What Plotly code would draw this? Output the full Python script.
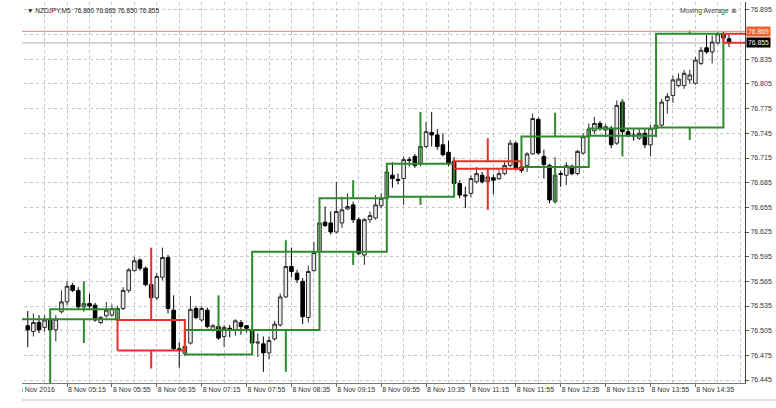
import plotly.graph_objects as go

# ---------------- data ----------------
symbol = "NZDJPY,M5"
indicator_label = "Moving Average"
date_label = "8 Nov 2016"

# M5 bars, index 0 = 8 Nov 05:00 (first visible bar index = -4)
m5_first = -4
m5_open = [76.511, 76.504, 76.515, 76.509,
           76.519, 76.506, 76.528, 76.540, 76.560, 76.554, 76.534, 76.538, 76.536, 76.515, 76.523, 76.524,
           76.518, 76.532, 76.554, 76.578, 76.591, 76.581, 76.561, 76.545, 76.570, 76.594, 76.530, 76.483,
           76.477, 76.490, 76.532, 76.518, 76.530, 76.506, 76.510, 76.498, 76.508, 76.506, 76.515, 76.511,
           76.506, 76.490, 76.489, 76.478, 76.495, 76.512, 76.546, 76.583, 76.575, 76.565, 76.521, 76.578,
           76.601, 76.637, 76.636, 76.625, 76.636, 76.653, 76.658, 76.640, 76.597, 76.640, 76.642, 76.657,
           76.666, 76.694, 76.689, 76.690, 76.713, 76.717, 76.708, 76.729, 76.746, 76.743, 76.731, 76.722,
           76.711, 76.684, 76.670, 76.672, 76.686, 76.694, 76.686, 76.691, 76.690, 76.696, 76.706, 76.733,
           76.704, 76.706, 76.720, 76.762, 76.717, 76.706, 76.662, 76.696, 76.694, 76.705, 76.696, 76.721,
           76.742, 76.748, 76.757, 76.749, 76.751, 76.733, 76.783, 76.747, 76.743, 76.739, 76.745, 76.731,
           76.751, 76.755, 76.785, 76.791, 76.803, 76.803, 76.810, 76.806, 76.830, 76.849, 76.844, 76.855,
           76.866, 76.860]
m5_high = [76.529, 76.526, 76.524, 76.524,
           76.526, 76.524, 76.554, 76.565, 76.563, 76.558, 76.545, 76.550, 76.539, 76.523, 76.540, 76.537,
           76.535, 76.558, 76.581, 76.595, 76.593, 76.583, 76.563, 76.575, 76.606, 76.597, 76.548, 76.491,
           76.493, 76.547, 76.535, 76.535, 76.533, 76.513, 76.515, 76.512, 76.512, 76.519, 76.518, 76.512,
           76.508, 76.502, 76.498, 76.498, 76.517, 76.550, 76.603, 76.606, 76.579, 76.569, 76.584, 76.613,
           76.640, 76.656, 76.650, 76.686, 76.668, 76.672, 76.662, 76.643, 76.642, 76.650, 76.670, 76.672,
           76.703, 76.710, 76.696, 76.717, 76.716, 76.720, 76.740, 76.759, 76.771, 76.750, 76.745, 76.736,
           76.716, 76.688, 76.680, 76.694, 76.704, 76.698, 76.697, 76.695, 76.700, 76.710, 76.737, 76.735,
           76.706, 76.722, 76.769, 76.764, 76.725, 76.708, 76.716, 76.699, 76.710, 76.707, 76.725, 76.745,
           76.757, 76.765, 76.760, 76.756, 76.754, 76.785, 76.786, 76.751, 76.750, 76.751, 76.751, 76.755,
           76.758, 76.787, 76.794, 76.815, 76.818, 76.822, 76.822, 76.838, 76.850, 76.865, 76.864, 76.868,
           76.869, 76.865]
m5_low = [76.485, 76.498, 76.502, 76.504,
          76.504, 76.492, 76.526, 76.536, 76.552, 76.530, 76.528, 76.530, 76.516, 76.513, 76.521, 76.522,
          76.516, 76.530, 76.551, 76.577, 76.578, 76.559, 76.543, 76.542, 76.566, 76.526, 76.481, 76.460,
          76.474, 76.488, 76.519, 76.516, 76.508, 76.504, 76.494, 76.485, 76.497, 76.499, 76.500, 76.503,
          76.488, 76.473, 76.455, 76.470, 76.493, 76.510, 76.545, 76.570, 76.563, 76.513, 76.515, 76.577,
          76.598, 76.631, 76.622, 76.623, 76.630, 76.652, 76.636, 76.597, 76.585, 76.636, 76.640, 76.654,
          76.664, 76.679, 76.683, 76.658, 76.705, 76.703, 76.705, 76.727, 76.729, 76.725, 76.717, 76.705,
          76.680, 76.666, 76.654, 76.667, 76.684, 76.684, 76.680, 76.671, 76.688, 76.694, 76.704, 76.700,
          76.697, 76.698, 76.719, 76.719, 76.690, 76.660, 76.660, 76.680, 76.682, 76.694, 76.694, 76.719,
          76.739, 76.744, 76.748, 76.740, 76.727, 76.731, 76.743, 76.740, 76.736, 76.737, 76.727, 76.717,
          76.740, 76.752, 76.769, 76.782, 76.801, 76.799, 76.805, 76.804, 76.828, 76.842, 76.830, 76.853,
          76.857, 76.850]
m5_close = [76.506, 76.515, 76.506, 76.518,
            76.506, 76.519, 76.540, 76.559, 76.554, 76.534, 76.538, 76.535, 76.518, 76.521, 76.530, 76.532,
            76.532, 76.554, 76.579, 76.590, 76.581, 76.561, 76.545, 76.571, 76.594, 76.532, 76.483, 76.481,
            76.486, 76.531, 76.521, 76.532, 76.510, 76.511, 76.496, 76.509, 76.506, 76.517, 76.510, 76.508,
            76.490, 76.491, 76.478, 76.493, 76.513, 76.546, 76.583, 76.577, 76.567, 76.522, 76.577, 76.600,
            76.636, 76.633, 76.625, 76.650, 76.652, 76.656, 76.640, 76.599, 76.640, 76.645, 76.658, 76.666,
            76.698, 76.690, 76.688, 76.713, 76.712, 76.706, 76.729, 76.747, 76.743, 76.729, 76.719, 76.708,
            76.684, 76.670, 76.669, 76.690, 76.696, 76.686, 76.692, 76.688, 76.696, 76.706, 76.733, 76.702,
            76.700, 76.720, 76.763, 76.721, 76.707, 76.664, 76.694, 76.695, 76.706, 76.696, 76.723, 76.741,
            76.750, 76.757, 76.751, 76.753, 76.731, 76.779, 76.747, 76.743, 76.742, 76.745, 76.731, 76.751,
            76.755, 76.783, 76.790, 76.810, 76.811, 76.818, 76.816, 76.834, 76.846, 76.844, 76.856, 76.866,
            76.861, 76.855]

# H1 candles overlaid (start bar index, 12 M5 bars each)
h1_start = [-12, 0, 12, 24, 36, 48, 60, 72, 84, 96, 108, 120]
h1_open = [76.400, 76.519, 76.518, 76.476, 76.506, 76.601, 76.668, 76.711, 76.704, 76.742, 76.752, 76.866]
h1_high = [76.530, 76.565, 76.606, 76.548, 76.615, 76.688, 76.771, 76.739, 76.770, 76.786, 76.870, 76.869]
h1_low = [76.380, 76.490, 76.459, 76.474, 76.455, 76.585, 76.658, 76.652, 76.660, 76.717, 76.737, 76.850]
h1_close = [76.519, 76.531, 76.481, 76.506, 76.601, 76.666, 76.708, 76.702, 76.741, 76.751, 76.866, 76.855]
bars_per_h1 = 12

ask_price = 76.869
bid_price = 76.855

x_tick_times = ["05:15", "05:55", "06:35", "07:15", "07:55", "08:35", "09:15", "09:55",
                "10:35", "11:15", "11:55", "12:35", "13:15", "13:55", "14:35"]
y_tick_vals = [76.445, 76.475, 76.505, 76.535, 76.565, 76.595, 76.625, 76.655,
               76.685, 76.715, 76.745, 76.775, 76.805, 76.835, 76.865, 76.895]

# ---------------- styles ----------------
GREEN = "#2f8a2f"
RED = "#e8302a"
GRID = "#c6c6c6"
FONT = "Liberation Sans"
W, H = 776, 408
ML, MR, MT, MB = 0, 31, 2, 25
PW, PH = W - ML - MR, H - MT - MB
x_range = [-8.95, 123.85]
y_range = [76.4414, 76.9047]

idx = list(range(m5_first, m5_first + len(m5_open)))

fig = go.Figure()
fig.add_trace(go.Candlestick(
    x=idx, open=m5_open, high=m5_high, low=m5_low, close=m5_close,
    increasing=dict(line=dict(color="#2a2a2a", width=1), fillcolor="#eaeaea"),
    decreasing=dict(line=dict(color="#000000", width=1), fillcolor="#000000"),
    whiskerwidth=0, hoverinfo="skip", showlegend=False))

# H1 boxes
for col, up in ((GREEN, True), (RED, False)):
    xs, ys = [], []
    for s, o, h, l, c in zip(h1_start, h1_open, h1_high, h1_low, h1_close):
        if (c >= o) != up:
            continue
        top, bot = max(o, c), min(o, c)
        e = s + bars_per_h1
        mid = s + bars_per_h1 / 2
        xs += [s, e, e, s, s, None, mid, mid, None, mid, mid, None]
        ys += [bot, bot, top, top, bot, None, top, h, None, bot, l, None]
    fig.add_trace(go.Scatter(x=xs, y=ys, mode="lines", line=dict(color=col, width=2),
                             hoverinfo="skip", showlegend=False))

def time_to_idx(t):
    hh, mm = t.split(":")
    return (int(hh) * 60 + int(mm) - 300) / 5

major = [time_to_idx(t) for t in x_tick_times]
tickvals = [m5_first - 1.74] + major
ticktext = [date_label] + ["8 Nov " + t for t in x_tick_times]
minor_vals = [v - 4 for v in major] + [major[-1] + 4, major[-1] + 8]

ytext = ["" if abs(v - 76.865) < 1e-6 else f"{v:.3f}" for v in y_tick_vals]

shapes = [
    dict(type="line", xref="paper", x0=0, x1=1, yref="y", y0=ask_price, y1=ask_price,
         line=dict(color="#f2836b", width=1), layer="above"),
    dict(type="line", xref="paper", x0=0, x1=1, yref="y", y0=bid_price, y1=bid_price,
         line=dict(color="#cfcfcf", width=1.6), layer="below"),
    # window left edge cover
    dict(type="rect", xref="paper", yref="paper", x0=-0.01, x1=22 / PW,
         y0=-0.2, y1=1.05, fillcolor="white", line=dict(width=0), layer="above"),
    # bottom window border
    dict(type="line", xref="paper", yref="paper", x0=22 / PW, x1=1.05,
         y0=-17 / PH, y1=-17 / PH, line=dict(color="#c4c4c4", width=1)),
]

o, h, l, c = m5_open[-1], m5_high[-1], m5_low[-1], m5_close[-1]
annotations = [
    dict(xref="paper", yref="paper", x=25 / PW, y=1 - 8 / PH,
         xanchor="left", yanchor="middle", showarrow=False,
         text=f"\u25bc {symbol}  {o:.3f} {h:.3f} {l:.3f} {c:.3f}",
         font=dict(family=FONT, size=6.5, color="#222")),
    dict(xref="paper", yref="paper", x=739 / PW, y=1 - 9 / PH,
         xanchor="right", yanchor="middle", showarrow=False,
         text=f"{indicator_label} \u2297",
         font=dict(family=FONT, size=6.8, color="#444")),
    dict(xref="paper", yref="y", x=1.0, y=ask_price, xanchor="left", yanchor="middle",
         showarrow=False, text=f"{ask_price:.3f}", bgcolor="#f0602c",
         font=dict(family=FONT, size=6.8, color="white"), borderpad=1, xshift=1),
    dict(xref="paper", yref="y", x=1.0, y=bid_price, xanchor="left", yanchor="middle",
         showarrow=False, text=f"{bid_price:.3f}", bgcolor="#000000",
         font=dict(family=FONT, size=6.8, color="white"), borderpad=1, xshift=1),
]

fig.update_layout(
    width=W, height=H, margin=dict(l=ML, r=MR, t=MT, b=MB),
    paper_bgcolor="white", plot_bgcolor="white",
    font=dict(family=FONT, size=7, color="#333"),
    showlegend=False, shapes=shapes, annotations=annotations,
    boxgap=0.2, boxgroupgap=0.2,
    xaxis=dict(range=x_range, tickvals=tickvals, ticktext=ticktext, ticks="outside",
               ticklen=3, tickcolor="#666", showgrid=True, gridcolor=GRID, griddash="dot",
               gridwidth=1, showline=True, linecolor="#777", linewidth=1, zeroline=False,
               tickangle=0, ticklabelposition="outside right",
               minor=dict(tickmode="array", tickvals=minor_vals, showgrid=True,
                          gridcolor=GRID, griddash="dot", gridwidth=1, ticks=""),
               tickfont=dict(family=FONT, size=7, color="#333"),
               rangeslider=dict(visible=False), fixedrange=True),
    yaxis=dict(range=y_range, side="right", tickvals=y_tick_vals, ticktext=ytext,
               ticks="outside", ticklen=3, tickcolor="#555", showgrid=True, gridcolor=GRID,
               griddash="dot", gridwidth=1, showline=True, linecolor="#444", linewidth=1,
               zeroline=False, tickfont=dict(family=FONT, size=7, color="#333"), fixedrange=True),
)

fig.write_html("out.html", config={"displayModeBar": False},
               post_script="document.body.style.margin='0px';document.body.style.padding='0px';")
